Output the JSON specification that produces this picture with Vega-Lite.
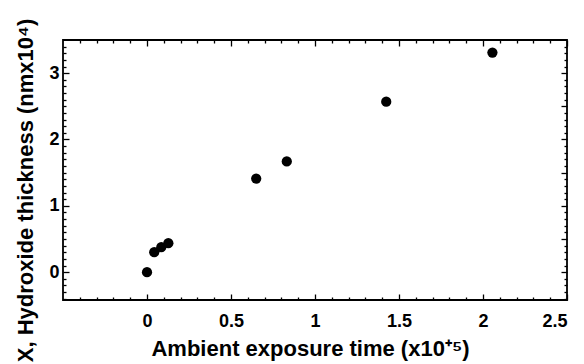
{
  "$schema": "https://vega.github.io/schema/vega-lite/v6.json",
  "width": 504,
  "height": 260,
  "autosize": "none",
  "padding": {"left": 63, "top": 40, "right": 17, "bottom": 64},
  "background": "white",
  "config": {
    "view": {"stroke": "black", "strokeWidth": 1.8},
    "font": "Liberation Sans",
    "axis": {"grid": false, "domain": false, "tickColor": "black", "tickWidth": 1.3,
             "labelFont": "Liberation Sans", "labelFontWeight": "bold", "labelFontSize": 18, "labelColor": "black",
             "titleFont": "Liberation Sans", "titleFontWeight": "bold", "titleColor": "black"}
  },
  "data": {"values": [
    {"t": 0.0, "h": 0.0},
    {"t": 0.043, "h": 0.30},
    {"t": 0.085, "h": 0.377},
    {"t": 0.127, "h": 0.437},
    {"t": 0.65, "h": 1.41},
    {"t": 0.832, "h": 1.67},
    {"t": 1.424, "h": 2.57},
    {"t": 2.056, "h": 3.31}
  ]},
  "resolve": {"axis": {"x": "independent", "y": "independent"}},
  "layer": [
    {
      "mark": {"type": "point", "filled": true, "color": "black", "opacity": 1, "size": 105},
      "encoding": {
        "x": {"field": "t", "type": "quantitative", "scale": {"domain": [-0.5, 2.5], "nice": false, "zero": false},
              "axis": {"orient": "bottom", "values": [0, 0.5, 1, 1.5, 2, 2.5], "format": "~g", "tickSize": -6,
                       "labelPadding": 18, "title": "Ambient exposure time (x10⁺⁵)", "titleFontSize": 22,
                       "titleX": 247, "titleY": 55, "titleBaseline": "alphabetic"}},
        "y": {"field": "h", "type": "quantitative", "scale": {"domain": [-0.42, 3.5], "nice": false, "zero": false},
              "axis": {"orient": "left", "values": [0, 1, 2, 3], "format": "~g", "tickSize": -6,
                       "labelPadding": 10, "title": "X, Hydroxide thickness (nmx10⁴)", "titleFontSize": 22,
                       "titleX": -31, "titleY": 150, "titleBaseline": "alphabetic"}}
      }
    },
    {
      "mark": {"type": "point", "opacity": 0},
      "encoding": {
        "x": {"field": "t", "type": "quantitative",
              "axis": {"orient": "bottom", "values": [-0.4,-0.3,-0.2,-0.1,0.1,0.2,0.3,0.4,0.6,0.7,0.8,0.9,1.1,1.2,1.3,1.4,1.6,1.7,1.8,1.9,2.1,2.2,2.3,2.4],
                       "tickSize": -3, "labels": false, "title": null}},
        "y": {"field": "h", "type": "quantitative",
              "axis": {"orient": "left", "values": [-0.4,-0.3,-0.2,-0.1,0.1,0.2,0.3,0.4,0.5,0.6,0.7,0.8,0.9,1.1,1.2,1.3,1.4,1.5,1.6,1.7,1.8,1.9,2.1,2.2,2.3,2.4,2.5,2.6,2.7,2.8,2.9,3.1,3.2,3.3,3.4],
                       "tickSize": -3, "labels": false, "title": null}}
      }
    },
    {
      "mark": {"type": "point", "opacity": 0},
      "encoding": {
        "x": {"field": "t", "type": "quantitative",
              "axis": {"orient": "top", "values": [0, 0.5, 1, 1.5, 2, 2.5], "tickSize": -6, "labels": false, "title": null}},
        "y": {"field": "h", "type": "quantitative",
              "axis": {"orient": "right", "values": [0, 0.5, 1, 1.5, 2, 2.5, 3], "tickSize": -6, "labels": false, "title": null}}
      }
    },
    {
      "mark": {"type": "point", "opacity": 0},
      "encoding": {
        "x": {"field": "t", "type": "quantitative",
              "axis": {"orient": "top", "values": [-0.4,-0.3,-0.2,-0.1,0.1,0.2,0.3,0.4,0.6,0.7,0.8,0.9,1.1,1.2,1.3,1.4,1.6,1.7,1.8,1.9,2.1,2.2,2.3,2.4],
                       "tickSize": -3, "labels": false, "title": null}},
        "y": {"field": "h", "type": "quantitative",
              "axis": {"orient": "right", "values": [-0.4,-0.3,-0.2,-0.1,0.1,0.2,0.3,0.4,0.6,0.7,0.8,0.9,1.1,1.2,1.3,1.4,1.6,1.7,1.8,1.9,2.1,2.2,2.3,2.4,2.6,2.7,2.8,2.9,3.1,3.2,3.3,3.4],
                       "tickSize": -3, "labels": false, "title": null}}
      }
    }
  ]
}
